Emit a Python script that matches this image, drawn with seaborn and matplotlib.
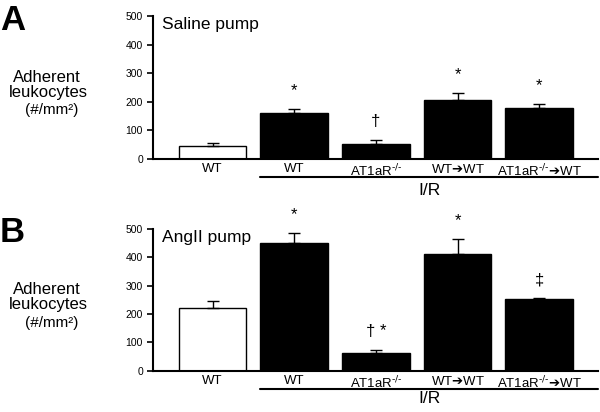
import numpy as np
import pandas as pd
import matplotlib
matplotlib.use("Agg")
import matplotlib.pyplot as plt
import matplotlib.transforms as mtransforms
import seaborn as sns

# values (mean and upward SEM)
groups = ["WT", "WT", r"AT1aR$^{\text{-/-}}$", "WT$➔$WT", r"AT1aR$^{\text{-/-}}➔$WT"]
saline_mean = [44, 161, 52, 205, 179]
saline_sem = [13, 13, 16, 27, 14]
angii_mean = [220, 452, 61, 412, 252]
angii_sem = [26, 33, 12, 52, 4]
saline_marks = ["", "*", "†", "*", "*"]
angii_marks = ["", "*", "† *", "*", "‡"]
yticks = [0, 100, 200, 300, 400, 500]

sns.set_style("ticks")
plt.rcParams["font.family"] = ["Liberation Sans", "DejaVu Sans"]
plt.rcParams["mathtext.fontset"] = "dejavusans"
for k in ["text.color", "axes.labelcolor", "xtick.color", "ytick.color", "axes.edgecolor"]:
    plt.rcParams[k] = "black"

fig = plt.figure(figsize=(6, 4.12), dpi=100)


def panel(rect, mean, sem, marks, title, letter, letter_y, ylab_y, ir_y):
    ax = fig.add_axes(rect)
    df = pd.DataFrame({"key": ["g%d" % i for i in range(len(mean))], "val": mean})
    cols = ["white"] + ["black"] * (len(mean) - 1)
    sns.barplot(data=df, x="key", y="val", hue="key", palette=cols, legend=False,
                edgecolor="black", linewidth=1.0, width=0.83, errorbar=None, ax=ax)
    x = np.arange(len(mean))
    ax.errorbar(x, mean, yerr=[np.zeros(len(mean)), sem], fmt="none",
                ecolor="black", elinewidth=1.0, capsize=4, capthick=1.0)
    for i in range(len(mean)):
        if marks[i]:
            ax.annotate(marks[i], (i, mean[i] + sem[i]), xytext=(0, 10),
                        textcoords="offset points", ha="center", va="baseline",
                        fontsize=12, annotation_clip=False)
    ax.set_xlim(-0.733, 4.72)
    ax.set_ylim(0, 500)
    ax.set_yticks(yticks)
    ax.set_yticklabels([str(t) for t in yticks], fontsize=7.5)
    ax.set_xticks(x)
    ax.set_xticklabels(groups, fontsize=9.5)
    ax.tick_params(axis="x", length=0, pad=3)
    ax.tick_params(axis="y", direction="out", length=4, width=1.2, pad=3)
    ax.set_xlabel("")
    ax.set_ylabel("")
    sns.despine(ax=ax)
    for s in ["left", "bottom"]:
        ax.spines[s].set_linewidth(1.5)
        ax.spines[s].set_color("black")
    ax.text(0.02, 0.995, title, transform=ax.transAxes, fontsize=12.5, va="top", ha="left")

    # I/R bracket under the last four bars
    tr = mtransforms.blended_transform_factory(ax.transData, ax.transAxes)
    x0 = 1 - 0.415
    x1 = 4.72
    ax.plot([x0, x1], [-0.128, -0.128], color="black", lw=1.5, transform=tr, clip_on=False)
    ax.text((x0 + x1) / 2, ir_y, "I/R", transform=tr, fontsize=12.5, ha="center", va="center")

    fig.text(0.0, letter_y, letter, fontsize=25, fontweight="bold", ha="left", va="center")
    fig.text(47 / 600, ylab_y[0], "Adherent", fontsize=12, ha="center", va="center")
    fig.text(48 / 600, ylab_y[1], "leukocytes", fontsize=12, ha="center", va="center")
    fig.text(52 / 600, ylab_y[2], "(#/mm²)", fontsize=11, ha="center", va="center")
    return ax


panel([0.2545, 0.614, 0.7422, 0.347], saline_mean, saline_sem, saline_marks,
      "Saline pump", "A", 1 - 20 / 412,
      [1 - 77 / 412, 1 - 92 / 412, 1 - 110 / 412], -0.22)
panel([0.2545, 0.1002, 0.7422, 0.344], angii_mean, angii_sem, angii_marks,
      "AngII pump", "B", 1 - 233 / 412,
      [1 - 290 / 412, 1 - 305 / 412, 1 - 323 / 412], -0.195)

fig.savefig("out.png", dpi=100, facecolor="white")
